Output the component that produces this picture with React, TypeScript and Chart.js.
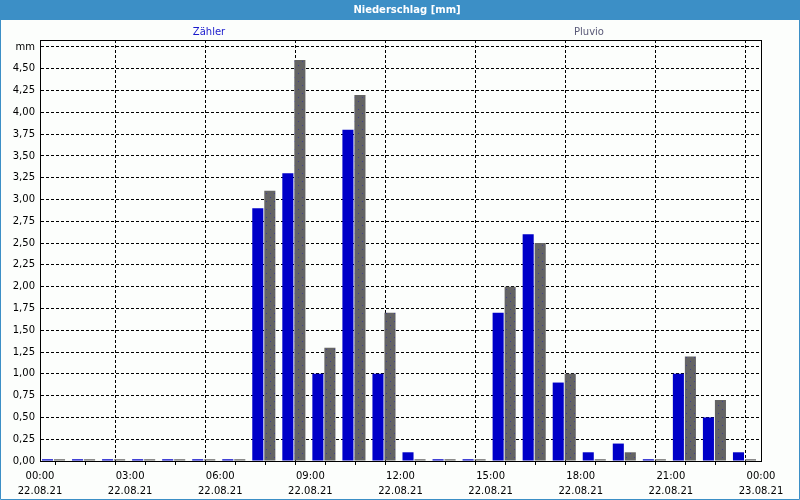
import React, { useEffect, useRef } from "react";
import { Chart, registerables } from "chart.js";

Chart.register(...registerables);

const hours: number[] = [0, 1, 2, 3, 4, 5, 6, 7, 8, 9, 10, 11, 12, 13, 14, 15, 16, 17, 18, 19, 20, 21, 22, 23];
const zaehler: number[] = [0.02, 0.02, 0.02, 0.02, 0.02, 0.02, 0.02, 2.9, 3.3, 1.0, 3.8, 1.0, 0.1, 0.02, 0.02, 1.7, 2.6, 0.9, 0.1, 0.2, 0.02, 1.0, 0.5, 0.1];
const pluvio: number[] = [0.02, 0.02, 0.02, 0.02, 0.02, 0.02, 0.02, 3.1, 4.6, 1.3, 4.2, 1.7, 0.02, 0.02, 0.02, 2.0, 2.5, 1.0, 0.02, 0.1, 0.02, 1.2, 0.7, 0.02];
const xTickLabels: string[][] = [
  ["00:00", "22.08.21"], ["03:00", "22.08.21"], ["06:00", "22.08.21"], ["09:00", "22.08.21"],
  ["12:00", "22.08.21"], ["15:00", "22.08.21"], ["18:00", "22.08.21"], ["21:00", "22.08.21"],
  ["00:00", "23.08.21"],
];
const yTicks: number[] = [0, 0.25, 0.5, 0.75, 1, 1.25, 1.5, 1.75, 2, 2.25, 2.5, 2.75, 3, 3.25, 3.5, 3.75, 4, 4.25, 4.5, 4.75];
const seriesNames: string[] = ["Zähler", "Pluvio"];
const chartTitle = "Niederschlag [mm]";

const FONT = "'DejaVu Sans', Verdana, sans-serif";

function makePattern(): CanvasPattern | string {
  const c = document.createElement("canvas");
  c.width = 8;
  c.height = 8;
  const g = c.getContext("2d");
  if (!g) return "#646464";
  g.fillStyle = "#646464";
  g.fillRect(0, 0, 8, 8);
  g.fillStyle = "#40408c";
  g.fillRect(2, 1, 1, 1);
  g.fillRect(6, 5, 1, 1);
  const p = g.createPattern(c, "repeat");
  return p || "#646464";
}

const framePlugin = {
  id: "frame",
  beforeDraw(chart: any) {
    const { ctx, width } = chart;
    ctx.save();
    ctx.fillStyle = "#fcfefc";
    ctx.fillRect(0, 0, width, chart.height);
    ctx.fillStyle = "#3c8fc6";
    ctx.fillRect(0, 0, width, 20);
    ctx.fillStyle = "#ffffff";
    ctx.font = `bold 10px ${FONT}`;
    ctx.textAlign = "center";
    ctx.textBaseline = "middle";
    ctx.fillText(chartTitle, width / 2 + 7, 10);
    ctx.font = `10px ${FONT}`;
    ctx.fillStyle = "#1a1acc";
    ctx.fillText(seriesNames[0], 209, 32);
    ctx.fillStyle = "#5a5a78";
    ctx.fillText(seriesNames[1], 589, 32);
    ctx.restore();
  },
  afterDraw(chart: any) {
    const { ctx, width, height, chartArea } = chart;
    ctx.save();
    ctx.strokeStyle = "#000000";
    ctx.lineWidth = 1;
    ctx.strokeRect(
      Math.round(chartArea.left) + 0.5,
      Math.round(chartArea.top) + 0.5,
      Math.round(chartArea.right - chartArea.left),
      Math.round(chartArea.bottom - chartArea.top)
    );
    ctx.strokeStyle = "#3c8fc6";
    ctx.beginPath();
    ctx.moveTo(0.5, 0);
    ctx.lineTo(0.5, height - 0.5);
    ctx.lineTo(width - 0.5, height - 0.5);
    ctx.lineTo(width - 0.5, 0);
    ctx.stroke();
    ctx.restore();
  },
};

export default function App() {
  const ref = useRef<HTMLCanvasElement | null>(null);

  useEffect(() => {
    document.body.style.margin = "0";
    if (!ref.current) return;
    const pattern = makePattern();
    const chart = new Chart(ref.current, {
      type: "bar",
      data: {
        datasets: [
          {
            label: seriesNames[0],
            data: hours.map((h, i) => ({ x: h + 0.45, y: zaehler[i] })),
            backgroundColor: "#0000c8",
            borderWidth: 0,
            categoryPercentage: 0.8,
            barPercentage: 0.92,
          },
          {
            label: seriesNames[1],
            data: hours.map((h, i) => ({ x: h + 0.45, y: pluvio[i] })),
            backgroundColor: pattern as any,
            borderWidth: 0,
            categoryPercentage: 0.8,
            barPercentage: 0.92,
          },
        ],
      },
      options: {
        responsive: false,
        animation: false,
        devicePixelRatio: 1,
        layout: { padding: { top: 40, left: 0, right: 39, bottom: 0 } },
        plugins: {
          legend: { display: false },
          title: { display: false },
          tooltip: { enabled: false },
        },
        scales: {
          x: {
            type: "linear",
            offset: false,
            min: 0,
            max: 24,
            afterFit: (s: any) => {
              s.height = 39;
            },
            afterBuildTicks: (s: any) => {
              s.ticks = hours.concat([24]).map((v) => ({ value: v }));
            },
            ticks: {
              autoSkip: false,
              maxRotation: 0,
              padding: 4,
              color: "#000000",
              font: { family: FONT, size: 10, lineHeight: 1.5 },
              callback: (v: any) => {
                const n = Number(v);
                return n % 3 === 0 ? xTickLabels[n / 3] : "";
              },
            },
            grid: {
              color: (c: any) => (c.tick && c.tick.value % 3 === 0 ? "#000000" : "rgba(0,0,0,0)"),
              tickColor: "#000000",
              tickLength: 4,
              lineWidth: 1,
            },
            border: { display: true, color: "#000000", dash: [3, 2] },
          },
          y: {
            min: 0,
            max: 4.83,
            afterFit: (s: any) => {
              s.width = 40;
            },
            afterBuildTicks: (s: any) => {
              s.ticks = yTicks.map((v) => ({ value: v }));
            },
            ticks: {
              padding: 5,
              color: "#000000",
              font: { family: FONT, size: 10 },
              callback: (v: any) => {
                const n = Number(v);
                if (Math.abs(n - 4.75) < 1e-6) return "mm";
                return n.toFixed(2).replace(".", ",");
              },
            },
            grid: {
              color: "#000000",
              drawTicks: false,
              lineWidth: 1,
            },
            border: { display: true, color: "#000000", dash: [3, 2] },
          },
        },
      },
      plugins: [framePlugin],
    });
    return () => chart.destroy();
  }, []);

  return <canvas ref={ref} width={800} height={500} style={{ display: "block" }} />;
}
